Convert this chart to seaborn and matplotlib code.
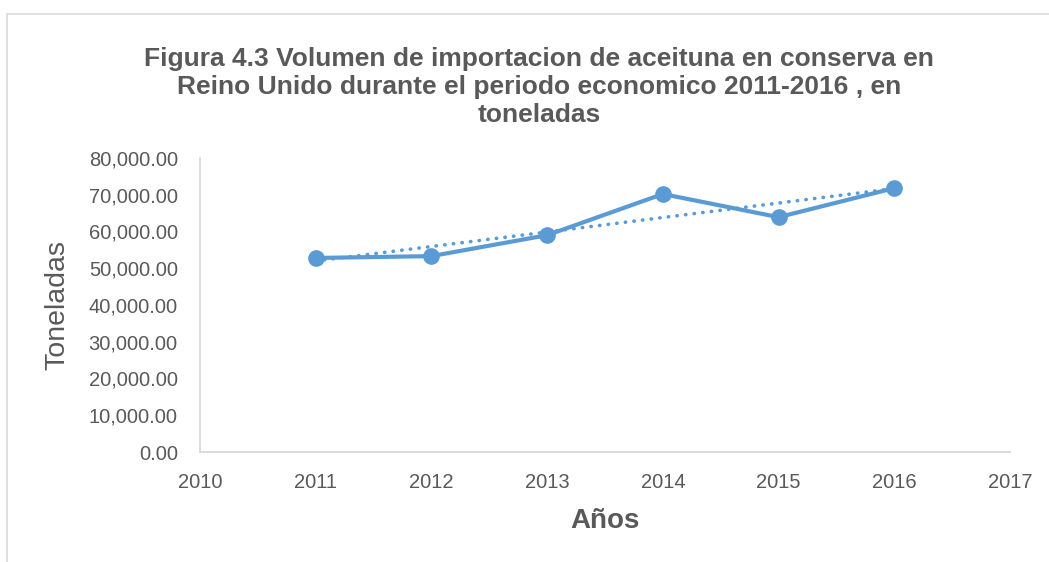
import numpy as np
import pandas as pd
import matplotlib
matplotlib.use("Agg")
import matplotlib.pyplot as plt
import matplotlib.ticker as mticker
from matplotlib.patches import Rectangle
import seaborn as sns

# data
years = [2011, 2012, 2013, 2014, 2015, 2016]
toneladas = [52800, 53300, 59000, 70200, 63900, 71800]
title = ("Figura 4.3 Volumen de importacion de aceituna en conserva en\n"
         "Reino Unido durante el periodo economico 2011-2016 , en\n"
         "toneladas")

df = pd.DataFrame({"year": years, "ton": toneladas})

sns.set_theme(style="white")
plt.rcParams["font.family"] = ["Liberation Sans", "DejaVu Sans"]

blue = "#5B9BD5"
grey = "#595959"

fig = plt.figure(figsize=(10.49, 5.62), dpi=100)
ax = fig.add_axes([200 / 1049, 1 - 452 / 562, 810 / 1049, 294 / 562])

# trend line (linear fit over the data)
sns.regplot(data=df, x="year", y="ton", ax=ax, scatter=False, ci=None,
            line_kws=dict(color=blue, lw=2.6, ls=(0, (0.1, 2.3)),
                          dash_capstyle="round"))
sns.lineplot(data=df, x="year", y="ton", ax=ax, color=blue, lw=3,
             marker="o", markersize=12, markeredgewidth=0)

ax.set_xlim(2010, 2017)
ax.set_ylim(0, 80000)
ax.set_xticks(range(2010, 2018))
ax.set_yticks(range(0, 80001, 10000))
ax.yaxis.set_major_formatter(mticker.StrMethodFormatter("{x:,.2f}"))
ax.tick_params(length=0, labelsize=14.5, labelcolor=grey)
ax.tick_params(axis="y", pad=16)
ax.tick_params(axis="x", pad=15)
ax.set_xlabel("")
ax.set_ylabel("")

for s in ["top", "right"]:
    ax.spines[s].set_visible(False)
for s in ["left", "bottom"]:
    ax.spines[s].set_color("#d9d9d9")
    ax.spines[s].set_linewidth(1.3)

fig.text(539 / 1049, 1 - 87 / 562, title, ha="center", va="center",
         fontsize=19, fontweight="bold", color=grey, linespacing=1.2)
fig.text(57 / 1049, 1 - 305 / 562, "Toneladas", rotation=90, ha="center",
         va="center", fontsize=20.5, color=grey)
fig.text(605 / 1049, 1 - 521 / 562, "Años", ha="center", va="center",
         fontsize=20, fontweight="bold", color=grey)

# outer chart frame
fig.patches.append(Rectangle((7 / 1049, -0.2), 1.2, 1.2 - 14 / 562,
                             transform=fig.transFigure, fill=False,
                             edgecolor="#d9d9d9", lw=1.2))

fig.savefig("out.png", dpi=100)
